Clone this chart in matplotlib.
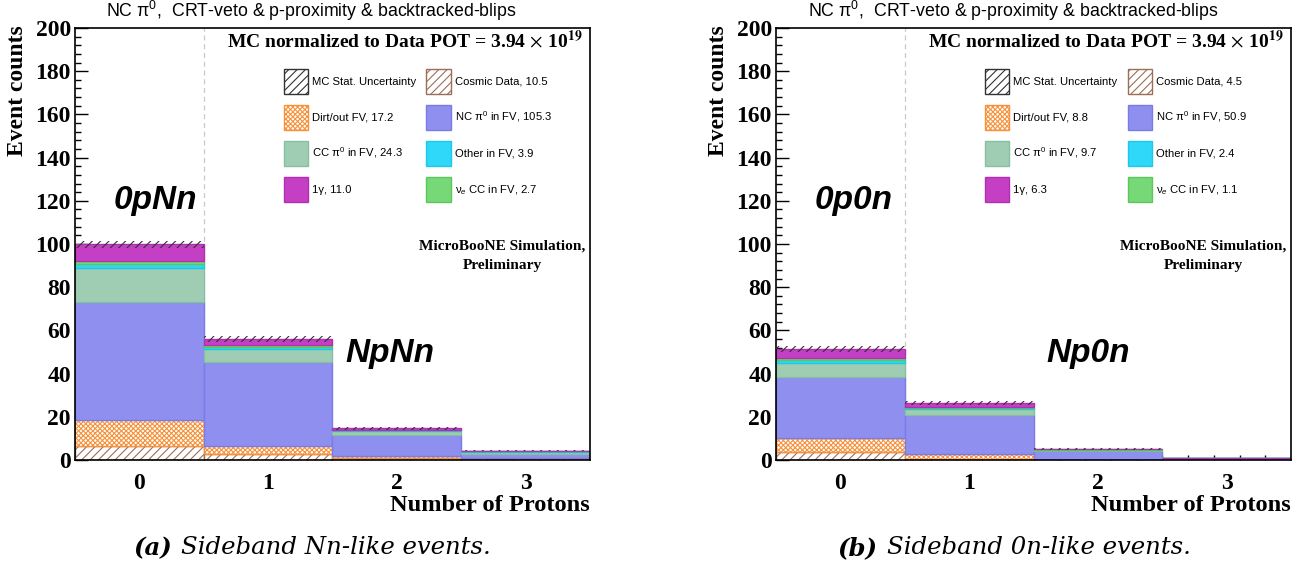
import numpy as np
import matplotlib
matplotlib.use("Agg")
import matplotlib.pyplot as plt
from matplotlib.patches import Patch
from matplotlib.ticker import MultipleLocator, FixedLocator

plt.rcParams['mathtext.fontset'] = 'custom'
plt.rcParams['mathtext.rm'] = 'Liberation Sans'
plt.rcParams['mathtext.it'] = 'Liberation Sans:italic'
plt.rcParams['mathtext.bf'] = 'Liberation Sans:bold'
plt.rcParams['hatch.linewidth'] = 0.8

# ---- data (per bin: 0, 1, 2, 3 protons) ----
n_protons = [0, 1, 2, 3]

# sideband Nn-like
nn_cosmic = [6.5, 2.6, 0.8, 0.6]
nn_dirt = [12.0, 3.9, 1.0, 0.3]
nn_ncpi0 = [54.6, 38.9, 9.7, 2.1]
nn_ccpi0 = [15.6, 5.8, 2.0, 0.9]
nn_other = [2.1, 1.3, 0.3, 0.2]
nn_nue = [1.5, 0.8, 0.3, 0.1]
nn_1g = [7.5, 2.8, 0.5, 0.2]
nn_err = [1.8, 1.5, 0.8, 0.4]
# legend totals, same order as the stack (cosmic, dirt, NC, CC, other, nue, 1g)
nn_totals = ['10.5', '17.2', '105.3', '24.3', '3.9', '2.7', '11.0']

# sideband 0n-like
on_cosmic = [3.8, 0.6, 0.1, 0.0]
on_dirt = [6.5, 2.2, 0.1, 0.0]
on_ncpi0 = [28.2, 18.0, 3.9, 0.8]
on_ccpi0 = [6.4, 2.6, 0.6, 0.1]
on_other = [1.4, 0.9, 0.1, 0.0]
on_nue = [0.7, 0.3, 0.1, 0.0]
on_1g = [4.3, 1.8, 0.2, 0.0]
on_err = [1.3, 1.0, 0.5, 0.2]
on_totals = ['4.5', '8.8', '50.9', '9.7', '2.4', '1.1', '6.3']

names = ['Cosmic Data', 'Dirt/out FV', r'NC π$^0$ in FV', r'CC π$^0$ in FV',
         'Other in FV', r'ν$_e$ CC in FV', '1γ']

# style of each stack layer, bottom to top
layers = [
    dict(fc='white', ec='#9c6e57', hatch='////'),      # cosmic
    dict(fc='white', ec='#f7923a', hatch='xxxxxxx'),   # dirt
    dict(fc='#8f8ff0', ec='#7b7be6', hatch=None),      # NC pi0
    dict(fc='#9fcdb4', ec='#86c0a2', hatch=None),      # CC pi0
    dict(fc='#2fd8f8', ec='#20c8e8', hatch=None),      # other
    dict(fc='#77d877', ec='#5cc85c', hatch=None),      # nue
    dict(fc='#c43fc4', ec='#b030b0', hatch=None),      # 1 gamma
]

serif_b = dict(family='Liberation Serif', weight='bold')


def draw_panel(ax, comps, err, totals, tag0, tagN):
    x = np.array(n_protons)
    bottom = np.zeros(len(x))
    ax.plot([0.5, 0.5], [0, 200], ls=(0, (4, 3)), color='#c8c8c8', lw=0.9, zorder=0)
    for vals, st in zip(comps, layers):
        ax.bar(x, vals, bottom=bottom, width=1.0, facecolor=st['fc'],
               edgecolor=st['ec'], hatch=st['hatch'], linewidth=1.0, zorder=2)
        bottom = bottom + np.array(vals)
    err = np.array(err)
    ax.bar(x, 2 * err, bottom=bottom - err, width=1.0, facecolor='none',
           edgecolor='#333333', hatch='////', linewidth=0, zorder=3)

    ax.set_xlim(-0.5, 3.5)
    ax.set_ylim(0, 200)
    ax.xaxis.set_major_locator(FixedLocator(n_protons))
    ax.xaxis.set_minor_locator(FixedLocator(np.arange(-0.3, 3.5, 0.2)))
    ax.yaxis.set_major_locator(MultipleLocator(20))
    ax.yaxis.set_minor_locator(MultipleLocator(4))
    ax.tick_params(axis='x', which='major', length=0, pad=9)
    ax.tick_params(axis='x', which='minor', direction='in', length=3.5, width=1)
    ax.tick_params(axis='y', which='major', direction='in', length=9, width=1, pad=3)
    ax.tick_params(axis='y', which='minor', direction='in', length=4.5, width=1)
    for lab in ax.get_xticklabels() + ax.get_yticklabels():
        lab.set_fontfamily('Liberation Serif')
        lab.set_fontweight('bold')
        lab.set_fontsize(17)
    for sp in ax.spines.values():
        sp.set_linewidth(1.2)

    ax.text(0.46, 1.012, r'NC π$^0$,  CRT-veto & p-proximity & backtracked-blips',
            transform=ax.transAxes, ha='center', va='bottom', fontsize=12.8,
            family='Liberation Sans', math_fontfamily='custom')
    ax.text(0.985, 0.972, r'MC normalized to Data POT = 3.94$\,\times\,$10$^{\mathbf{19}}$',
            transform=ax.transAxes, ha='right', va='center', fontsize=14,
            math_fontfamily='stix', **serif_b)
    ax.text(2.82, 94.5, 'MicroBooNE Simulation,\nPreliminary', ha='center', va='center',
            fontsize=11.1, linespacing=1.7, **serif_b)
    ax.text(-0.2, 120, tag0, ha='left', va='center', fontsize=24,
            family='Liberation Sans', weight='bold', style='italic')
    ax.text(1.6, 49.5, tagN, ha='left', va='center', fontsize=24,
            family='Liberation Sans', weight='bold', style='italic')
    ax.text(1.0, -0.105, 'Number of Protons', transform=ax.transAxes, ha='right',
            va='center', fontsize=17.6, **serif_b)

    labels = [f'{n}, {t}' for n, t in zip(names, totals)]
    hs = [Patch(facecolor=st['fc'], edgecolor=st['ec'], hatch=st['hatch'], lw=1)
          for st in layers]
    hstat = Patch(facecolor='white', edgecolor='#333333', hatch='////', lw=1)
    # ROOT fills rows first; matplotlib fills columns first
    order_h = [hstat, hs[1], hs[3], hs[6], hs[0], hs[2], hs[4], hs[5]]
    order_l = ['MC Stat. Uncertainty', labels[1], labels[3], labels[6],
               labels[0], labels[2], labels[4], labels[5]]
    ax.legend(order_h, order_l, ncol=2, loc='upper left', bbox_to_anchor=(0.405, 0.905),
              frameon=False, prop=dict(family='Liberation Sans', size=8.1),
              handlelength=2.2, handleheight=3.05, labelspacing=0.97,
              handletextpad=0.35, columnspacing=0.9, borderpad=0, borderaxespad=0)


fig = plt.figure(figsize=(12.99, 5.73), dpi=100)
ax1 = fig.add_axes([0.0577, 0.1972, 0.3965, 0.7539])
ax2 = fig.add_axes([0.5974, 0.1972, 0.3965, 0.7539])

draw_panel(ax1, [nn_cosmic, nn_dirt, nn_ncpi0, nn_ccpi0, nn_other, nn_nue, nn_1g],
           nn_err, nn_totals, '0pNn', 'NpNn')
draw_panel(ax2, [on_cosmic, on_dirt, on_ncpi0, on_ccpi0, on_other, on_nue, on_1g],
           on_err, on_totals, '0p0n', 'Np0n')

for xpix in (18, 718):
    fig.text(xpix / 1299, 1 - 25 / 573, 'Event counts', rotation=90, ha='center',
             va='top', fontsize=17, **serif_b)

# captions: bold-italic tag followed by italic text, centred under each panel
caps = [(312, '(a)', 'Sideband Nn-like events.'), (1014, '(b)', 'Sideband 0n-like events.')]
fig.canvas.draw()
rend = fig.canvas.get_renderer()
ycap = 1 - 548 / 573
for xc, tag, txt in caps:
    t1 = fig.text(0, ycap, tag, ha='left', va='center', fontsize=17.6,
                  family='DejaVu Serif', weight='bold', style='italic')
    t2 = fig.text(0, ycap, txt, ha='left', va='center', fontsize=17.6,
                  family='DejaVu Serif', style='italic')
    w1 = t1.get_window_extent(rend).width
    w2 = t2.get_window_extent(rend).width
    gap = 9
    x0 = xc - (w1 + gap + w2) / 2
    t1.set_x(x0 / 1299)
    t2.set_x((x0 + w1 + gap) / 1299)

fig.savefig('out.png', dpi=100)
